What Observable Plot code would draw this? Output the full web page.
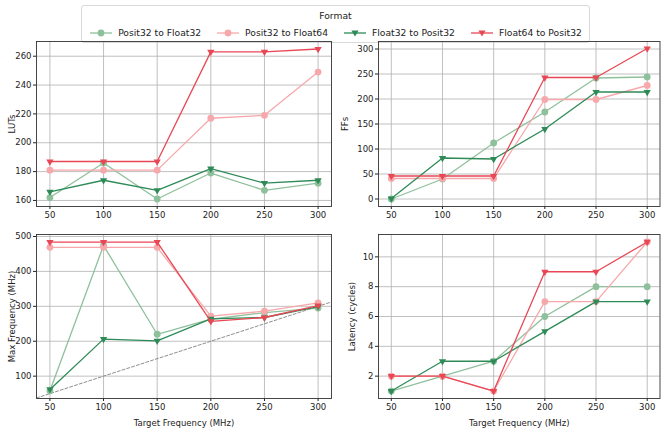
<!DOCTYPE html>
<html>
<head>
<meta charset="utf-8">
<script src="https://cdn.jsdelivr.net/npm/d3@7"></script>
<script src="https://cdn.jsdelivr.net/npm/@observablehq/plot@0.6"></script>
<style>
  html, body { margin: 0; padding: 0; background: #fff; }
  #fig { position: relative; width: 661px; height: 432px; font-family: "DejaVu Sans", sans-serif; overflow: hidden; }
  #fig svg { position: absolute; overflow: visible; }
  #legend { position: absolute; left: 81px; top: 5px; width: 509px; height: 38px; border: 1px solid #d9d9d9; border-radius: 3px; box-sizing: border-box; background: #fff; font-size: 9.2px; color: #222; }
  #legend .title { position: absolute; top: 4px; width: 100%; text-align: center; }
  #legend .items { position: absolute; top: 21px; left: 0; width: 100%; display: flex; justify-content: center; gap: 15px; }
  #legend .item { display: flex; align-items: center; gap: 5px; white-space: nowrap; }
</style>
</head>
<body>
<div id="fig">
  <div id="legend"><div class="title">Format</div><div class="items" id="items"></div></div>
</div>
<script>
const targets = [50, 100, 150, 200, 250, 300];
const seriesNames = ["Posit32 to Float32", "Posit32 to Float64", "Float32 to Posit32", "Float64 to Posit32"];
const seriesColors = ["#8fc09c", "#f7a8ab", "#2e8b57", "#e84855"];
const seriesMarkers = ["circle", "circle", "triangle", "triangle"];

const luts_p32f32 = [162, 186, 161, 179, 167, 172];
const luts_p32f64 = [181, 181, 181, 217, 219, 249];
const luts_f32p32 = [166, 174, 167, 182, 172, 174];
const luts_f64p32 = [187, 187, 187, 263, 263, 265];

const ffs_p32f32 = [0, 40, 112, 174, 242, 244];
const ffs_p32f64 = [41, 41, 41, 199, 199, 227];
const ffs_f32p32 = [1, 82, 80, 140, 214, 214];
const ffs_f64p32 = [46, 46, 46, 243, 243, 301];

const fmax_p32f32 = [58, 474, 220, 263, 282, 295];
const fmax_p32f64 = [469, 469, 469, 272, 286, 310];
const fmax_f32p32 = [62, 206, 201, 264, 268, 299];
const fmax_f64p32 = [484, 484, 484, 257, 268, 302];

const lat_p32f32 = [1, 2, 3, 6, 8, 8];
const lat_p32f64 = [2, 2, 1, 7, 7, 11];
const lat_f32p32 = [1, 3, 3, 5, 7, 7];
const lat_f64p32 = [2, 2, 1, 9, 9, 11];

const refLine = [37.5, 312.5];

const panels = [
  {label: "LUTs", series: [luts_p32f32, luts_p32f64, luts_f32p32, luts_f64p32], yDomain: [155.8, 270.2], yTicks: [160, 180, 200, 220, 240, 260],
   left: 0, top: 35, width: 335, height: 190, mL: 36, mR: 4, mT: 6, mB: 19, xLabel: null, labelX: 12},
  {label: "FFs", series: [ffs_p32f32, ffs_p32f64, ffs_f32p32, ffs_f64p32], yDomain: [-15, 315], yTicks: [0, 50, 100, 150, 200, 250, 300],
   left: 335, top: 35, width: 326, height: 190, mL: 43, mR: 1.5, mT: 6, mB: 19, xLabel: null, labelX: 10},
  {label: "Max Frequency (MHz)", series: [fmax_p32f32, fmax_p32f64, fmax_f32p32, fmax_f64p32], yDomain: [36, 505.7], yTicks: [100, 200, 300, 400, 500],
   left: 0, top: 225, width: 335, height: 207, mL: 36, mR: 4, mT: 9, mB: 34, xLabel: "Target Frequency (MHz)", labelX: 12, ref: true},
  {label: "Latency (cycles)", series: [lat_p32f32, lat_p32f64, lat_f32p32, lat_f64p32], yDomain: [0.5, 11.5], yTicks: [2, 4, 6, 8, 10],
   left: 335, top: 225, width: 326, height: 207, mL: 43, mR: 1.5, mT: 9, mB: 34, xLabel: "Target Frequency (MHz)", labelX: 17}
];

const fig = document.getElementById("fig");

for (const p of panels) {
  const marks = [];
  marks.push(Plot.gridX(targets, {stroke: "#b0b0b0", strokeOpacity: 1, strokeWidth: 0.8}));
  marks.push(Plot.gridY(p.yTicks, {stroke: "#b0b0b0", strokeOpacity: 1, strokeWidth: 0.8}));
  if (p.ref) {
    const refData = refLine.map(v => ({x: v, y: v}));
    marks.push(Plot.line(refData, {x: "x", y: "y", stroke: "#808080", strokeWidth: 0.9, strokeDasharray: "3,2", clip: true}));
  }
  p.series.forEach((vals, i) => {
    const data = targets.map((t, j) => ({x: t, y: vals[j]}));
    marks.push(Plot.line(data, {x: "x", y: "y", stroke: seriesColors[i], strokeWidth: 1.3}));
    if (seriesMarkers[i] === "circle") {
      marks.push(Plot.dot(data, {x: "x", y: "y", symbol: "circle", r: 3.4, fill: seriesColors[i], stroke: "none"}));
    } else {
      marks.push(Plot.dot(data, {x: "x", y: "y", symbol: "triangle", rotate: 180, r: 2.7, fill: seriesColors[i], stroke: "none"}));
    }
  });
  marks.push(Plot.axisX(targets, {tickSize: 3, tickPadding: 2, fontSize: 8.5, label: p.xLabel, labelAnchor: "center", labelArrow: "none", labelOffset: 27, color: "#222"}));
  marks.push(Plot.axisY(p.yTicks, {tickSize: 3, tickPadding: 2, fontSize: 8.5, label: p.label, labelAnchor: "center", labelArrow: "none", labelOffset: p.mL - p.labelX + 4, color: "#222"}));
  marks.push(Plot.frame({stroke: "#333", strokeWidth: 0.9}));

  const svg = Plot.plot({
    width: p.width, height: p.height,
    marginLeft: p.mL, marginRight: p.mR, marginTop: p.mT, marginBottom: p.mB,
    style: {fontFamily: "DejaVu Sans, sans-serif", fontSize: "8.5px", background: "transparent", color: "#222"},
    x: {domain: [37.5, 312.5]},
    y: {domain: p.yDomain},
    marks
  });
  svg.style.left = p.left + "px";
  svg.style.top = p.top + "px";
  fig.appendChild(svg);
}

// legend
const items = document.getElementById("items");
seriesNames.forEach((name, i) => {
  const item = document.createElement("div");
  item.className = "item";
  const sw = d3.create("svg").attr("width", 24).attr("height", 10).style("position", "static");
  sw.append("line").attr("x1", 1).attr("x2", 23).attr("y1", 5).attr("y2", 5).attr("stroke", seriesColors[i]).attr("stroke-width", 1.3);
  if (seriesMarkers[i] === "circle") {
    sw.append("circle").attr("cx", 12).attr("cy", 5).attr("r", 3.4).attr("fill", seriesColors[i]);
  } else {
    sw.append("path").attr("d", "M8.4,2.6 L15.6,2.6 L12,8.6 Z").attr("fill", seriesColors[i]);
  }
  item.appendChild(sw.node());
  const span = document.createElement("span");
  span.textContent = name;
  item.appendChild(span);
  items.appendChild(item);
});
</script>
</body>
</html>
